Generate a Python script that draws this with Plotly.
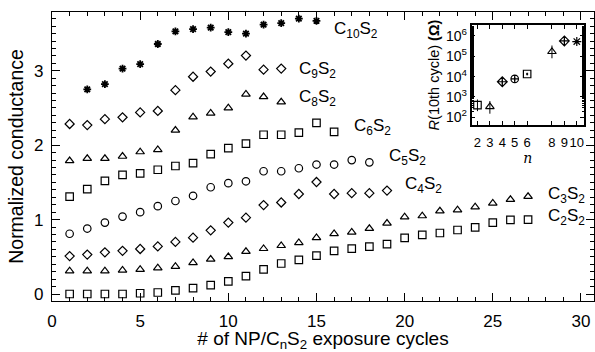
import plotly.graph_objects as go

# ---------------- data ----------------
cyc_c2 = list(range(1, 28))
c2s2 = [0.0, 0.0, 0.0, 0.0, 0.01, 0.02, 0.05, 0.08, 0.12, 0.17, 0.24, 0.33, 0.41, 0.46,
        0.515, 0.58, 0.61, 0.636, 0.67, 0.755, 0.795, 0.82, 0.86, 0.895, 0.96, 0.995, 1.0]
cyc_c3 = list(range(1, 28))
c3s2 = [0.31, 0.31, 0.31, 0.32, 0.33, 0.35, 0.37, 0.42, 0.466, 0.50, 0.57, 0.61, 0.65, 0.69,
        0.757, 0.81, 0.83, 0.88, 0.95, 1.035, 1.05, 1.115, 1.13, 1.17, 1.22, 1.27, 1.31]
cyc_c4 = list(range(1, 20))
c4s2 = [0.51, 0.53, 0.56, 0.58, 0.605, 0.64, 0.70, 0.757, 0.856, 0.96, 1.026, 1.195, 1.23,
        1.344, 1.505, 1.344, 1.355, 1.355, 1.39]
cyc_c5 = list(range(1, 19))
c5s2 = [0.81, 0.88, 0.96, 1.04, 1.10, 1.18, 1.25, 1.32, 1.435, 1.49, 1.515, 1.65, 1.65,
        1.69, 1.74, 1.74, 1.80, 1.77]
cyc_c6 = list(range(1, 17))
c6s2 = [1.31, 1.41, 1.52, 1.60, 1.62, 1.67, 1.72, 1.76, 1.88, 1.96, 2.02, 2.14, 2.14,
        2.17, 2.30, 2.18]
cyc_c8 = list(range(1, 14))
c8s2 = [1.79, 1.82, 1.82, 1.85, 1.91, 1.94, 2.20, 2.38, 2.43, 2.50, 2.685, 2.65, 2.58]
cyc_c9 = list(range(1, 14))
c9s2 = [2.285, 2.27, 2.35, 2.375, 2.44, 2.46, 2.74, 2.92, 2.99, 3.095, 3.205, 3.015, 3.03]
cyc_c10 = list(range(2, 16))
c10s2 = [2.75, 2.82, 3.03, 3.09, 3.36, 3.53, 3.56, 3.58, 3.52, 3.50, 3.62, 3.64, 3.70, 3.67]

series_labels = ["C<sub>2</sub>S<sub>2</sub>", "C<sub>3</sub>S<sub>2</sub>", "C<sub>4</sub>S<sub>2</sub>",
                 "C<sub>5</sub>S<sub>2</sub>", "C<sub>6</sub>S<sub>2</sub>", "C<sub>8</sub>S<sub>2</sub>",
                 "C<sub>9</sub>S<sub>2</sub>", "C<sub>10</sub>S<sub>2</sub>"]

# inset: resistance after 10th cycle vs chain length n
inset_n = [2, 3, 4, 5, 6, 8, 9, 10]
inset_R = [400, 330, 5600, 7700, 13500, 170000, 570000, 530000]
inset_err_up = [350, 300, 1500, 1800, 2000, 170000, 150000, 100000]
inset_err_dn = [200, 180, 1500, 1800, 2000, 90000, 150000, 100000]
inset_ticks = [2, 3, 4, 5, 6, 8, 9, 10]

# ---------------- figure ----------------
fig = go.Figure()
FONT = "Liberation Sans, Arial, sans-serif"
BLACK = "#000"

specs = [
    (cyc_c2, c2s2, "square-open", 7.5, 1.2),
    (cyc_c3, c3s2, "triangle-up-open", 7.5, 1.2),
    (cyc_c4, c4s2, "diamond-open", 7, 1.2),
    (cyc_c5, c5s2, "circle-open", 7.5, 1.2),
    (cyc_c6, c6s2, "square-open", 7.5, 1.2),
    (cyc_c8, c8s2, "triangle-up-open", 7.5, 1.2),
    (cyc_c9, c9s2, "diamond-open", 7, 1.2),
    (cyc_c10, c10s2, "asterisk-open", 6.5, 1.8),
]
for (xs, ys, sym, sz, lw), name in zip(specs, series_labels):
    fig.add_trace(go.Scatter(x=xs, y=ys, mode="markers", name=name,
                             marker=dict(symbol=sym, size=sz, color=BLACK,
                                         line=dict(color=BLACK, width=lw)),
                             showlegend=False, xaxis="x", yaxis="y"))

# series labels placed next to the end of each curve
label_pos = [(28.0, 1.035), (28.0, 1.33), (19.9, 1.465), (19.0, 1.84), (17.0, 2.24),
             (13.9, 2.63), (13.9, 3.01), (15.9, 3.55)]
for (lx, ly), name in zip(label_pos, series_labels):
    fig.add_annotation(x=lx, y=ly, xref="x", yref="y", text=name, showarrow=False,
                       xanchor="left", yanchor="middle",
                       font=dict(family=FONT, size=17, color=BLACK))

inset_syms = ["square-open", "triangle-up-open", "diamond-cross-open", "circle-cross-open",
              "square-open-dot", "triangle-up-open", "diamond-cross-open", "asterisk-open"]
fig.add_trace(go.Scatter(x=inset_n, y=inset_R, mode="markers", xaxis="x2", yaxis="y2",
                         marker=dict(symbol=inset_syms, size=7.5, color=BLACK,
                                     line=dict(color=BLACK, width=1.2)),
                         error_y=dict(type="data", symmetric=False, array=inset_err_up,
                                      arrayminus=inset_err_dn, color=BLACK, thickness=1, width=0),
                         showlegend=False))

axis_common = dict(showline=True, linecolor=BLACK, linewidth=1.3, mirror="allticks",
                   ticks="inside", tickcolor=BLACK, showgrid=False, zeroline=False,
                   automargin=False,
                   tickfont=dict(family=FONT, size=17, color=BLACK))

fig.update_layout(
    width=595, height=352,
    margin=dict(l=52, r=1, t=12, b=51),
    plot_bgcolor="white", paper_bgcolor="white",
    font=dict(family=FONT, color=BLACK),
    xaxis=dict(range=[0, 30.74], tickvals=[0, 5, 10, 15, 20, 25, 30], ticklen=8,
               ticklabelstandoff=4,
               minor=dict(dtick=1, tick0=0, ticklen=4, ticks="inside", tickcolor=BLACK),
               title=dict(text="# of NP/C<sub>n</sub>S<sub>2</sub> exposure cycles",
                          font=dict(family=FONT, size=19, color=BLACK), standoff=4),
               **axis_common),
    yaxis=dict(range=[-0.094, 3.79], tickvals=[0, 1, 2, 3], ticklen=8,
               ticklabelstandoff=4,
               minor=dict(dtick=0.1, tick0=0, ticklen=4, ticks="inside", tickcolor=BLACK),
               title=dict(text="Normalized conductance",
                          font=dict(family=FONT, size=19.5, color=BLACK), standoff=5),
               **axis_common),
    xaxis2=dict(domain=[0.774, 0.982], anchor="y2", range=[1.52, 10.6],
                tickvals=inset_ticks, ticktext=[str(t) for t in inset_ticks], ticklen=4,
                tickangle=0, automargin=False, ticklabelstandoff=5,
                showline=True, linecolor=BLACK, linewidth=1.5, mirror="ticks",
                ticks="inside", tickcolor=BLACK, showgrid=False, zeroline=False,
                tickfont=dict(family=FONT, size=13, color=BLACK),
                title=dict(text="<i>n</i>", font=dict(family="DejaVu Serif, serif", size=14, color=BLACK),
                           standoff=1)),
    yaxis2=dict(domain=[0.609, 0.955], anchor="x2", type="log", range=[1.62, 6.54],
                tickvals=[100, 1000, 10000, 100000, 1000000],
                ticktext=["10<sup>2</sup>", "10<sup>3</sup>", "10<sup>4</sup>", "10<sup>5</sup>", "10<sup>6</sup>"],
                ticklen=4, automargin=False, showline=True, linecolor=BLACK, linewidth=1.5, mirror="ticks",
                ticks="inside", tickcolor=BLACK, showgrid=False, zeroline=False,
                minor=dict(ticks="inside", ticklen=2.5, tickcolor=BLACK),
                tickfont=dict(family=FONT, size=14, color=BLACK),
                title=dict(text="<i>R</i>(10th cycle) <b>(Ω)</b>",
                           font=dict(family=FONT, size=14.5, color=BLACK), standoff=3)),
)

# remove the browser's default 8px body margin so the figure sits at the page origin
fig.write_html("out.html", config={"displayModeBar": False},
               post_script="document.body.style.margin='0';")
